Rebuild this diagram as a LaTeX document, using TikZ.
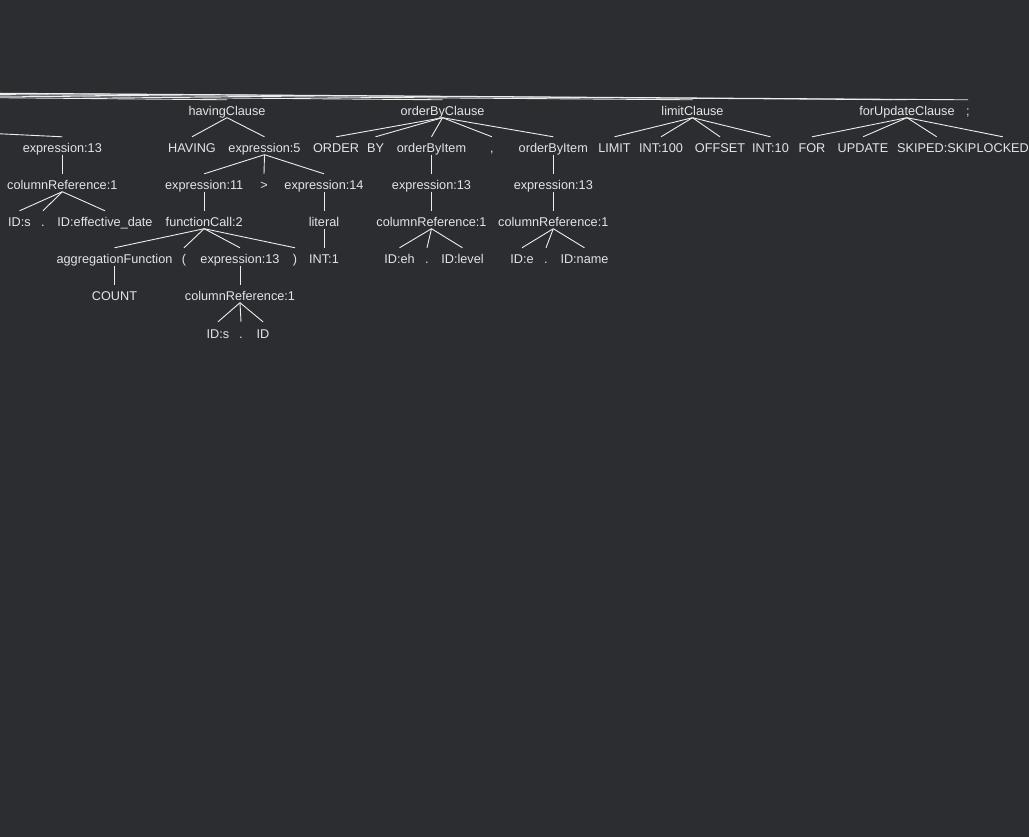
\documentclass[tikz,border=0pt]{standalone}
\usepackage{fontspec}
\setmainfont{Liberation Sans}
\definecolor{bg}{HTML}{2B2D30}
\definecolor{fg}{HTML}{E2E4E8}
\definecolor{ln}{HTML}{EDEDED}
\begin{document}
\begin{tikzpicture}[x=1pt,y=-1pt,
  t/.style={anchor=base, inner sep=0pt, text height=16pt, text depth=1.5pt, text=fg, font=\fontsize{12.7}{14}\selectfont},
  edge/.style={draw=ln, line width=0.9pt}]
\path[fill=bg, use as bounding box] (0,0) rectangle (1029,837);
\clip (0,0) rectangle (1029,837);
% off-canvas parents
\coordinate (root) at (-1936,80);
\coordinate (gb) at (-341,117.5);
% row 1
\node[t] (hc) at (227,116) {havingClause};
\node[t] (oc) at (442.5,116) {orderByClause};
\node[t] (lc) at (692.5,116) {limitClause};
\node[t] (fc) at (907,116) {forUpdateClause};
\node[t] (semi) at (968,116) {;};
% row 2
\node[t] (ea) at (62.3,153) {expression:13};
\node[t] (hv) at (192,153) {HAVING};
\node[t] (e5) at (264.5,153) {expression:5};
\node[t] (ord) at (336,153) {ORDER};
\node[t] (by) at (375.5,153) {BY};
\node[t] (oi1) at (431.5,153) {orderByItem};
\node[t] (comma) at (492,153) {,};
\node[t] (oi2) at (553.3,153) {orderByItem};
\node[t] (lim) at (614.5,153) {LIMIT};
\node[t] (i100) at (661,153) {INT:100};
\node[t] (off) at (720,153) {OFFSET};
\node[t] (i10) at (770.5,153) {INT:10};
\node[t] (for) at (812,153) {FOR};
\node[t] (upd) at (863,153) {UPDATE};
\node[t, anchor=base west] (sk) at (897,153) {SKIPED:SKIP};
\node[t, anchor=base west] (lk) at (sk.base east) {LOCKED};
% row 3
\node[t] (cra) at (62.3,190) {columnReference:1};
\node[t] (e11) at (204.2,190) {expression:11};
\node[t] (gt) at (264,190) {>};
\node[t] (e14) at (324,190) {expression:14};
\node[t] (eb) at (431.5,190) {expression:13};
\node[t] (ec) at (553.3,190) {expression:13};
% row 4
\node[t] (ids) at (19.5,227) {ID:s};
\node[t] (dota) at (43,227) {.};
\node[t] (ided) at (105,227) {ID:effective\_date};
\node[t] (fc2) at (204.2,227) {functionCall:2};
\node[t] (lit) at (324,227) {literal};
\node[t] (crb) at (431.5,227) {columnReference:1};
\node[t] (crc) at (553.3,227) {columnReference:1};
% row 5
\node[t] (agg) at (114.5,264) {aggregationFunction};
\node[t] (lp) at (184,264) {(};
\node[t] (ed) at (240,264) {expression:13};
\node[t] (rp) at (295,264) {)};
\node[t] (int1) at (324,264) {INT:1};
\node[t] (ideh) at (399.5,264) {ID:eh};
\node[t] (dotb) at (427,264) {.};
\node[t] (idlv) at (462.5,264) {ID:level};
\node[t] (ide) at (522,264) {ID:e};
\node[t] (dotc) at (546,264) {.};
\node[t] (idnm) at (584.5,264) {ID:name};
% row 6
\node[t] (cnt) at (114.5,301) {COUNT};
\node[t] (crd) at (240,301) {columnReference:1};
% row 7
\node[t] (ids2) at (218,338) {ID:s};
\node[t] (dotd) at (241,338) {.};
\node[t] (idid) at (263,338) {ID};
% edges
\foreach \c in {hc,oc,lc,fc,semi} \draw[edge] (root) -- (\c.north);
\draw[edge] (gb) -- (ea.north);
\draw[edge] (ea.south) -- (cra.north);
\foreach \c in {ids,dota,ided} \draw[edge] (cra.south) -- (\c.north);
\foreach \c in {hv,e5} \draw[edge] (hc.south) -- (\c.north);
\foreach \c in {e11,gt,e14} \draw[edge] (e5.south) -- (\c.north);
\draw[edge] (e11.south) -- (fc2.north);
\draw[edge] (e14.south) -- (lit.north);
\draw[edge] (lit.south) -- (int1.north);
\foreach \c in {agg,lp,ed,rp} \draw[edge] (fc2.south) -- (\c.north);
\draw[edge] (agg.south) -- (cnt.north);
\draw[edge] (ed.south) -- (crd.north);
\foreach \c in {ids2,dotd,idid} \draw[edge] (crd.south) -- (\c.north);
\foreach \c in {ord,by,oi1,comma,oi2} \draw[edge] (oc.south) -- (\c.north);
\draw[edge] (oi1.south) -- (eb.north);
\draw[edge] (eb.south) -- (crb.north);
\foreach \c in {ideh,dotb,idlv} \draw[edge] (crb.south) -- (\c.north);
\draw[edge] (oi2.south) -- (ec.north);
\draw[edge] (ec.south) -- (crc.north);
\foreach \c in {ide,dotc,idnm} \draw[edge] (crc.south) -- (\c.north);
\foreach \c in {lim,i100,off,i10} \draw[edge] (lc.south) -- (\c.north);
\foreach \c in {for,upd,sk,lk} \draw[edge] (fc.south) -- (\c.north);
\end{tikzpicture}
\end{document}
